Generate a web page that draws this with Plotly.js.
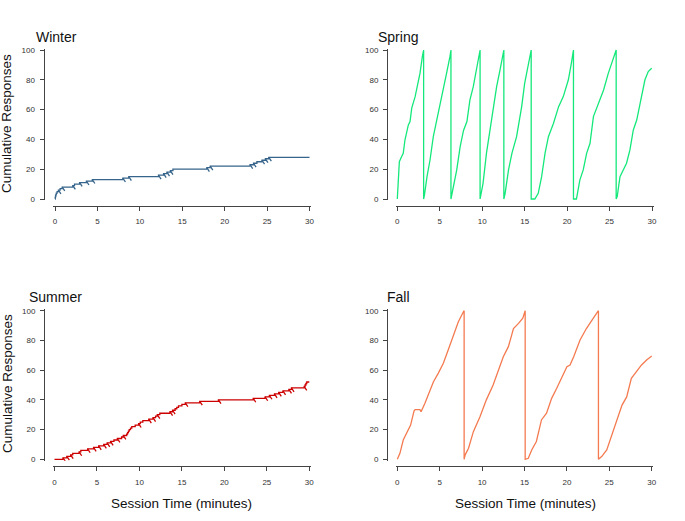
<!DOCTYPE html>
<html>
<head>
<meta charset="utf-8">
<script src="https://cdn.plot.ly/plotly-3.0.1.min.js"></script>
<style>
html,body{margin:0;padding:0;background:#fff;}
#chart{width:685px;height:521px;}
</style>
</head>
<body>
<div id="chart"></div>
<script>
// ---------------- DATA ----------------
const panelTitles = ["Winter", "Spring", "Summer", "Fall"];
const xTickVals = [0, 5, 10, 15, 20, 25, 30];
const yTickVals = [0, 20, 40, 60, 80, 100];
const xTitle = "Session Time (minutes)";
const yTitle = "Cumulative Responses";

// Winter: time (min) of each response
const winterResponseTimes = [0.03, 0.06, 0.1, 0.15, 0.25, 0.4, 0.6, 0.85, 2.1, 2.3, 2.9, 3.7, 4.4,
  8.0, 8.7, 12.2, 12.8, 13.2, 13.6, 13.9, 17.9, 18.3, 23.0, 23.4, 23.8, 24.4, 24.8, 25.2];
const winterReinforcers = [0.4, 0.85, 2.1, 2.9, 3.7, 4.4, 8.0, 8.7, 12.2, 12.8, 13.2, 13.6,
  17.9, 18.3, 23.0, 23.4, 24.4, 24.8, 25.2];

// Summer: time (min) of each response
const summerResponseTimes = [1.0, 1.45, 1.9, 2.15, 2.9, 3.1, 3.9, 4.6, 5.2, 5.8, 6.2, 6.6, 7.0, 7.4,
  7.9, 8.1, 8.5, 8.6, 8.7, 8.8, 8.95, 9.1, 9.5, 9.9, 10.1, 10.4, 11.1, 11.6, 11.9, 12.1, 12.4,
  13.6, 13.9, 14.2, 14.4, 14.6, 15.0, 15.4, 17.1, 19.3, 23.4, 24.8, 25.3, 25.9, 26.4, 26.9,
  27.6, 27.9, 29.4, 29.5, 29.6, 29.7];
const summerReinforcers = [1.0, 1.45, 1.9, 2.9, 3.9, 4.6, 5.2, 5.8, 6.2, 6.6, 7.4, 8.1, 9.9, 11.1,
  11.6, 12.1, 13.6, 13.9, 15.4, 17.1, 19.3, 23.4, 24.8, 25.3, 25.9, 26.4, 26.9, 27.6, 27.9, 29.4];

// Spring: pen trace (time, count), pen resets to 0 after 100
const springTime = [0, 0.12, 0.24, 0.5, 0.7, 0.9, 1.3, 1.5, 1.7, 2.1, 2.47, 2.67, 2.95, 3.1, 3.1,
  3.2, 3.5, 3.85, 4.24, 4.63, 5.0, 5.42, 5.8, 6.2, 6.32, 6.32,
  6.5, 7.0, 7.4, 7.8, 8.2, 8.55, 8.95, 9.35, 9.75, 9.75,
  9.93, 10.1, 10.5, 10.9, 11.3, 11.7, 12.1, 12.55, 12.55,
  12.7, 13.1, 13.5, 14.05, 14.65, 15.0, 15.4, 15.77, 15.77,
  16.2, 16.6, 17.0, 17.4, 17.8, 18.4, 19.0, 19.55, 20.15, 20.5, 20.75, 20.75,
  21.1, 21.5, 21.9, 22.3, 22.7, 23.1, 23.7, 24.3, 24.85, 25.25, 25.78, 25.78,
  25.9, 26.23, 26.6, 27.0, 27.4, 27.8, 28.2, 28.6, 29.17, 29.56, 29.96];
const springCount = [0, 15, 25, 28.4, 30.6, 39.6, 49.7, 52, 61, 68.7, 77.6, 84.3, 95.5, 100, 0,
  2.7, 15, 26, 41.8, 53, 62, 75.4, 84.3, 95.5, 100, 0,
  5, 19.5, 35, 46, 52, 66.4, 75.4, 88.8, 100, 0,
  7, 10.5, 30.6, 46, 59.7, 75.4, 86.6, 100, 0,
  3.8, 19.5, 30.6, 41.8, 62, 77.6, 88.8, 100, 0,
  0, 3.8, 15, 30.6, 41.8, 50.8, 62, 68.7, 80, 91, 100, 0,
  0, 12.7, 19.5, 30.6, 37.4, 55.3, 64.2, 73.2, 84.3, 91, 100, 0,
  1.6, 15, 19.5, 24, 32.9, 46.3, 53, 64.2, 80, 85.5, 87.7];

// Fall: pen trace (time, count), pen resets to 0 after 100
const fallTime = [0, 0.31, 0.7, 1.1, 1.57, 1.97, 2.1, 2.67, 2.8, 3.26, 3.66, 4.25, 4.84, 5.43, 6.0,
  6.6, 7.2, 7.8, 7.88, 7.88,
  8.0, 8.4, 8.97, 9.75, 10.5, 11.3, 11.9, 12.5, 13.1, 13.7, 14.3, 14.8, 15.08, 15.08,
  15.45, 15.85, 16.4, 17.0, 17.6, 18.2, 18.8, 19.4, 20.0, 20.37, 20.8, 21.55, 22.3, 23.1, 23.5, 23.72, 23.72,
  24.1, 24.7, 25.3, 25.9, 26.5, 27.05, 27.6, 28.2, 28.8, 29.4, 30];
const fallCount = [0, 4, 13, 17.5, 23, 32.5, 33.4, 33.4, 32, 37.7, 43, 52, 58, 64.6, 73.5,
  83.6, 92.6, 99.3, 100, 0,
  3, 7.4, 18.6, 28.7, 40, 50, 60, 69, 75.8, 88, 91.5, 95, 100, 0,
  0.7, 6.3, 12, 26.5, 31, 41, 47.8, 54.5, 62.3, 63.4, 69, 80.3, 88, 94.8, 98, 100, 0,
  1.8, 6.3, 16.4, 27.6, 36.5, 42, 54.5, 59, 63.5, 66.8, 69.5];

// ---------------- STYLE ----------------
const colors = {winter: "#36648B", spring: "#14E87A", summer: "#CD0000", fall: "#F47A50"};
const FONT = "Liberation Sans, Arial, Helvetica, sans-serif";
const W = 685, H = 521;

// Cumulative step record from response times
function stepRecord(times, endT) {
  const x = [0], y = [0];
  times.forEach((t, i) => { x.push(t); y.push(i + 1); });
  x.push(endT); y.push(times.length);
  return {x, y};
}
// Reinforcement pips: short diagonal strokes hanging from the record
function pips(times, respTimes) {
  const x = [], y = [];
  times.forEach(t => {
    const v = respTimes.filter(r => r <= t + 1e-9).length;
    x.push(t, t + 0.3, null);
    y.push(v, v - 2.6, null);
  });
  return {x, y};
}

const wRec = stepRecord(winterResponseTimes, 30);
const sRec = stepRecord(summerResponseTimes, 30);
const wPip = pips(winterReinforcers, winterResponseTimes);
const sPip = pips(summerReinforcers, summerResponseTimes);

const lw = 1.3;
const traces = [
  {x: wRec.x, y: wRec.y, xaxis: "x", yaxis: "y", mode: "lines", line: {color: colors.winter, width: lw, shape: "hv"}, hoverinfo: "skip"},
  {x: wPip.x, y: wPip.y, xaxis: "x", yaxis: "y", mode: "lines", line: {color: colors.winter, width: lw}, hoverinfo: "skip", connectgaps: false},
  {x: springTime, y: springCount, xaxis: "x2", yaxis: "y2", mode: "lines", line: {color: colors.spring, width: lw}, hoverinfo: "skip"},
  {x: sRec.x, y: sRec.y, xaxis: "x3", yaxis: "y3", mode: "lines", line: {color: colors.summer, width: lw, shape: "hv"}, hoverinfo: "skip"},
  {x: sPip.x, y: sPip.y, xaxis: "x3", yaxis: "y3", mode: "lines", line: {color: colors.summer, width: lw}, hoverinfo: "skip", connectgaps: false},
  {x: fallTime, y: fallCount, xaxis: "x4", yaxis: "y4", mode: "lines", line: {color: colors.fall, width: lw}, hoverinfo: "skip"}
];

// Panel geometry in pixels: x of t=0 / t=30, y of 0 / 100, axis line positions
const panels = [
  {x0: 55.0, x30: 309.5, y0: 199.0, y100: 50.0, xAxisY: 205.5, yAxisX: 43.5},
  {x0: 397.3, x30: 652.0, y0: 199.0, y100: 50.0, xAxisY: 205.5, yAxisX: 387.0},
  {x0: 54.5, x30: 309.3, y0: 459.3, y100: 310.7, xAxisY: 466.0, yAxisX: 44.0},
  {x0: 397.3, x30: 651.7, y0: 459.3, y100: 310.7, xAxisY: 466.0, yAxisX: 387.0}
];
const xPad = 0.2, yPad = 1;

const layout = {
  width: W, height: H,
  margin: {l: 0, r: 0, t: 0, b: 0},
  paper_bgcolor: "#fff", plot_bgcolor: "#fff",
  showlegend: false,
  font: {family: FONT, color: "#222"},
  annotations: [], shapes: []
};

panels.forEach((p, i) => {
  const sx = (p.x30 - p.x0) / 30, sy = (p.y0 - p.y100) / 100;
  const xl = p.x0 - xPad * sx, xr = p.x30 + xPad * sx;
  const yb = p.y0 + yPad * sy, yt = p.y100 - yPad * sy;
  const suf = i === 0 ? "" : String(i + 1);
  layout["xaxis" + suf] = {
    domain: [xl / W, xr / W], range: [-xPad, 30 + xPad],
    anchor: "free", position: (H - p.xAxisY) / H,
    tickmode: "array", tickvals: xTickVals, ticktext: xTickVals.map(String),
    ticks: "outside", ticklen: 4, tickwidth: 1, tickcolor: "#444",
    showline: true, linecolor: "#444", linewidth: 1,
    showgrid: false, zeroline: false, fixedrange: true,
    tickfont: {family: FONT, size: 8, color: "#333"}, ticklabelstandoff: 4
  };
  layout["yaxis" + suf] = {
    domain: [(H - yb) / H, (H - yt) / H], range: [-yPad, 100 + yPad],
    anchor: "free", position: p.yAxisX / W,
    tickmode: "array", tickvals: yTickVals, ticktext: yTickVals.map(String),
    ticks: "outside", ticklen: 4, tickwidth: 1, tickcolor: "#444",
    showline: true, linecolor: "#444", linewidth: 1,
    showgrid: false, zeroline: false, fixedrange: true,
    tickfont: {family: FONT, size: 8, color: "#333"}, ticklabelstandoff: 3
  };
});

// Panel titles
const titlePos = [[33.5, 37], [376, 37], [27, 297], [385, 297]];
panelTitles.forEach((t, i) => {
  layout.annotations.push({
    text: t, xref: "paper", yref: "paper", x: titlePos[i][0] / W, y: (H - titlePos[i][1]) / H,
    xanchor: "left", yanchor: "middle", showarrow: false,
    font: {family: FONT, size: 14, color: "#111"}
  });
});
// Y titles (left column)
[[7, 124], [7, 384]].forEach(pos => {
  layout.annotations.push({
    text: yTitle, xref: "paper", yref: "paper", x: pos[0] / W, y: (H - pos[1]) / H,
    xanchor: "center", yanchor: "middle", textangle: -90, showarrow: false,
    font: {family: FONT, size: 13.5, color: "#111"}
  });
});
// X titles (bottom row)
[[181.5, 503], [525, 503]].forEach(pos => {
  layout.annotations.push({
    text: xTitle, xref: "paper", yref: "paper", x: pos[0] / W, y: (H - pos[1]) / H,
    xanchor: "center", yanchor: "middle", showarrow: false,
    font: {family: FONT, size: 13.5, color: "#111"}
  });
});

Plotly.newPlot("chart", traces, layout, {staticPlot: true, displayModeBar: false});
</script>
</body>
</html>
